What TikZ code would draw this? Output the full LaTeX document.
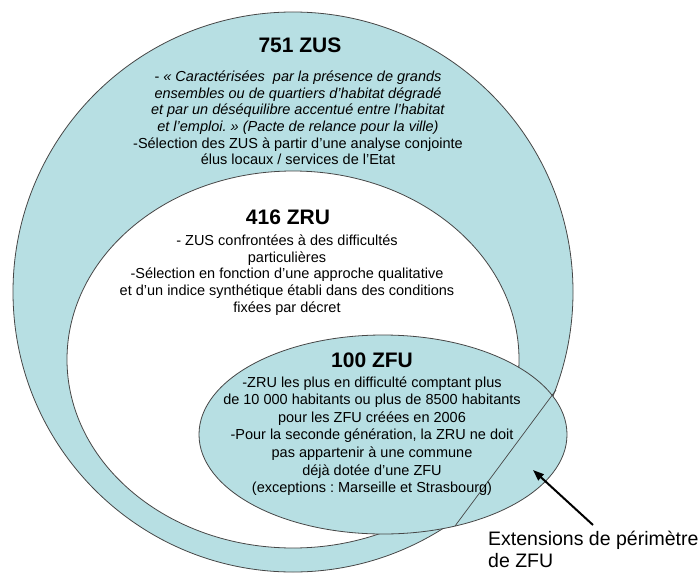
\documentclass[tikz,border=0pt]{standalone}
\usepackage{fontspec}
\setmainfont{Liberation Sans}
\usepackage{tikz}
\usetikzlibrary{arrows.meta,positioning}
\definecolor{ZoneBlue}{RGB}{183,223,227}
\definecolor{EdgeGray}{RGB}{70,70,70}
\frenchspacing

\begin{document}
\begin{tikzpicture}[x=1pt, y=-1pt,
    zone/.style={draw=EdgeGray, line width=0.8pt},
    title/.style={font=\fontsize{21}{24}\selectfont\bfseries},
    body/.style={align=center, inner sep=0pt, font=\fontsize{14.5}{16.6}\selectfont},
    pointer/.style={line width=2pt, -{Triangle[length=11pt,width=8pt]}}]
    \useasboundingbox (0,0) rectangle (700,572);

    % Zones
    \draw[zone, fill=ZoneBlue] (293,292) ellipse [x radius=280, y radius=280];
    \draw[zone, fill=white] (293,359.5) ellipse [x radius=226, y radius=188.5];
    \draw[zone, fill=ZoneBlue] (383,434.5) ellipse [x radius=184, y radius=99.5];
    \draw[EdgeGray, line width=0.7pt] (556,390) -- (455,526);

    % ZUS
    \node[title] (zushead) at (300,45) {751 ZUS};
    \node[body] (zusbody) at (298,118) {- \textit{« Caractérisées\ \ par la présence de grands}\\
        \textit{ensembles ou de quartiers d’habitat dégradé}\\
        \textit{et par un déséquilibre accentué entre l’habitat}\\
        \textit{et l’emploi. » (Pacte de relance pour la ville)}\\
        -Sélection des ZUS à partir d’une analyse conjointe\\
        élus locaux / services de l’Etat};

    % ZRU
    \node[title] (zruhead) at (288,217) {416 ZRU};
    \node[body] (zrubody) at (287,275) {- ZUS confrontées à des difficultés\\
        particulières\\
        -Sélection en fonction d’une approche qualitative\\
        et d’un indice synthétique établi dans des conditions\\
        fixées par décret};

    % ZFU
    \node[title] (zfuhead) at (372,360) {100 ZFU};
    \node[body, font=\fontsize{14.5}{17.6}\selectfont] (zfubody) at (372,436) {-ZRU les plus en difficulté comptant plus\\
        de 10 000 habitants ou plus de 8500 habitants\\
        pour les ZFU créées en 2006\\
        -Pour la seconde génération, la ZRU ne doit\\
        pas appartenir à une commune\\
        déjà dotée d’une ZFU\\
        (exceptions : Marseille et Strasbourg)};

    % Extension label
    \node[align=left, anchor=west, inner sep=0pt, font=\fontsize{19.5}{22}\selectfont] (ext) at (488,549) {Extensions de périmètre\\de ZFU};
    \coordinate (exttail) at (593,525);
    \coordinate (exttip) at (533,470);
    \draw[pointer] (exttail) -- (exttip);
\end{tikzpicture}
\end{document}
